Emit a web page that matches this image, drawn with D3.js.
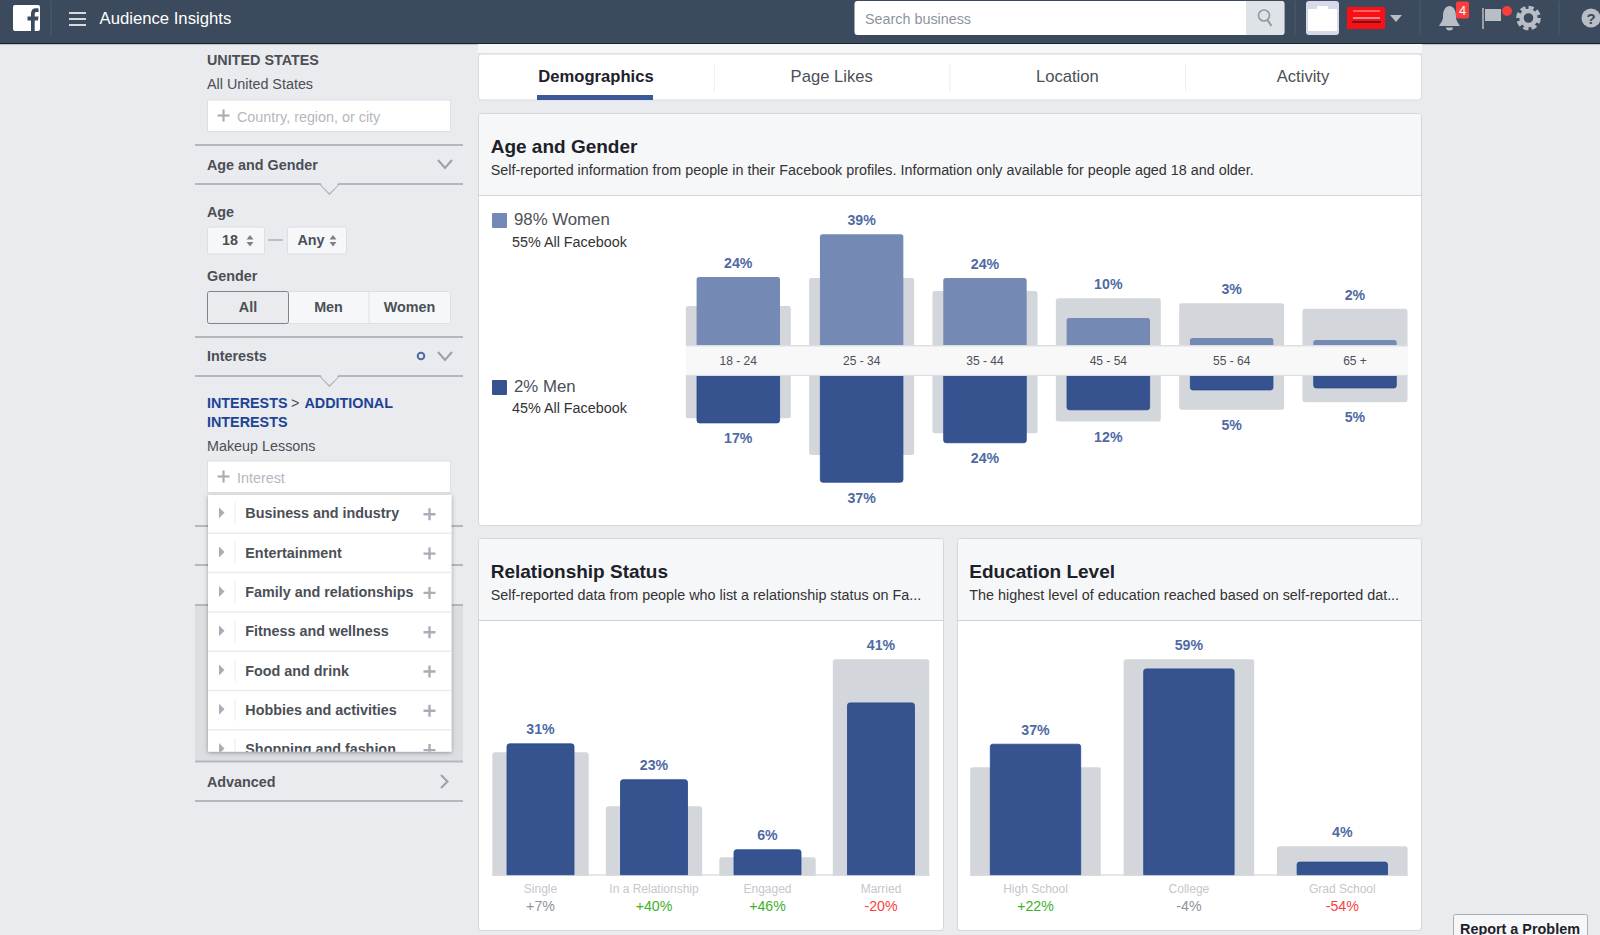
<!DOCTYPE html>
<html><head><meta charset="utf-8">
<script src="https://cdn.jsdelivr.net/npm/d3@7/dist/d3.min.js"></script>
<style>html,body{margin:0;padding:0;background:#e9ebee;overflow:hidden}svg{display:block}text{font-family:"Liberation Sans",Arial,sans-serif}</style>
</head><body><svg id="c" width="1600" height="935"></svg>
<script>
// ---------- data ----------
const ageCats = ['18 - 24','25 - 34','35 - 44','45 - 54','55 - 64','65 +'];
const womenVals = [23.9,39,23.6,9.5,2.5,1.8];
const womenFb = [13.7,23.6,19,16.5,14.7,12.8];
const womenLabels = ['24%','39%','24%','10%','3%','2%'];
const menVals = [17,37.9,24,12.4,5.4,4.7];
const menFb = [15.2,28.2,20.5,16.4,12.2,9.6];
const menLabels = ['17%','37%','24%','12%','5%','5%'];
const relCats = ['Single','In a Relationship','Engaged','Married'];
const relVals = [31.2,22.7,6.1,40.9];
const relFb = [29.1,16.3,4.2,51.1];
const relLabels = ['31%','23%','6%','41%'];
const relDelta = ['+7%','+40%','+46%','-20%'];
const eduCats = ['High School','College','Grad School'];
const eduVals = [37.3,58.7,3.8];
const eduFb = [30.6,61.3,8.2];
const eduLabels = ['37%','59%','4%'];
const eduDelta = ['+22%','-4%','-54%'];
const tabs = ['Demographics','Page Likes','Location','Activity'];
const interestRows = ['Business and industry','Entertainment','Family and relationships','Fitness and wellness','Food and drink','Hobbies and activities','Shopping and fashion'];

// ---------- style ----------
const C = {head:'#3b4a5c',bg:'#e9ebee',panel:'#f6f7f9',line:'#cfd2d8',side:'#b4b7bc',text:'#4b4f56',women:'#7589b5',men:'#365390',menEdge:'#24478f',fb:'#d3d6db',lab:'#4f6aa3',icon:'#b9bdc6',blue:'#1c4396',
  green:'#3fb02a',red:'#fa3e3e',grey:'#8d949e'};
const svg = d3.select('#c');
const bodySize = 14.35;
function T(p,x,y,s,o={}){return p.append('text').attr('x',x).attr('y',y).text(s)
  .attr('font-size',o.size||bodySize).attr('font-weight',o.weight||'normal').attr('fill',o.fill||C.text).attr('text-anchor',o.anchor||'start');}
function R(p,x,y,w,h,fill,o={}){return p.append('rect').attr('x',x).attr('y',y).attr('width',w).attr('height',h).attr('fill',fill)
  .attr('stroke',o.stroke||'none').attr('stroke-width',o.sw||1).attr('rx',o.rx||0);}
function L(p,x1,y1,x2,y2,c,w=1){return p.append('line').attr('x1',x1).attr('y1',y1).attr('x2',x2).attr('y2',y2).attr('stroke',c).attr('stroke-width',w);}
function P(p,d,fill,o={}){return p.append('path').attr('d',d).attr('fill',fill).attr('stroke',o.stroke||'none').attr('stroke-width',o.sw||1).attr('stroke-linecap',o.cap||'butt');}
function bar(x,w,y0,y1,r=2.5){ // rounded at the far end from the baseline y0
  const s=y1<y0?1:-1; const rr=Math.min(r,Math.abs(y0-y1));
  return `M${x},${y0}V${y1+s*rr}Q${x},${y1} ${x+rr},${y1}H${x+w-rr}Q${x+w},${y1} ${x+w},${y1+s*rr}V${y0}Z`;}

// ---------- header ----------
R(svg,0,0,1600,43,C.head); R(svg,0,43,1600,1.2,'#1d2129');
R(svg,13,5,27,26,'#fff',{rx:2});
P(svg,'M31,31V20.5H27.5V16.5H31V13.5C31,10 33,8.3 36,8.3C37.3,8.3 38.3,8.4 38.6,8.5V12H36.6C35,12 34.7,12.8 34.7,13.9V16.5H38.5L38,20.5H34.7V31Z',C.head);
L(svg,51,1,51,35,'#4f5e70');
[13,19,25].forEach(y=>L(svg,69,y,86,y,'#fff',1.6));
T(svg,99.5,24,'Audience Insights',{size:16.7,fill:'#fff'});
R(svg,854.5,1,430,34,'#fff',{rx:3});
P(svg,'M1246,1H1281a3,3 0 0 1 3,3V32a3,3 0 0 1 -3,3H1246Z','#dfe2e7');
T(svg,865,24,'Search business',{fill:'#8d949e'});
svg.append('circle').attr('cx',1264).attr('cy',15.5).attr('r',5.5).attr('fill','none').attr('stroke','#9299a3').attr('stroke-width',1.6);
L(svg,1267.5,20,1271.5,26,'#9299a3',2);
L(svg,1295,1,1295,35,'#4f5e70');
R(svg,1306,1,33,34,'#d7daea',{rx:3}); R(svg,1308,9,29,22,'#fff'); R(svg,1317,6,11,3,'#fff');
R(svg,1347,7,38,22,'#fa0f14'); L(svg,1353,11,1380,11,'#ffb0b0',1); L(svg,1353,18,1380,18,'#fff',1); L(svg,1352,22,1381,22,'#3a1a1e',1.5);
P(svg,'M1390,15H1402L1396,22Z','#b9bdc6');
L(svg,1420,1,1420,35,'#4f5e70');
P(svg,'M1449.5,6C1443.5,7 1443,13 1443,17C1443,21 1440,24 1439,26H1460C1459,24 1456,21 1456,17C1456,13 1455.5,7 1449.5,6ZM1446,27.5A3.5,3 0 0 0 1453,27.5Z',C.icon);
R(svg,1456,1.5,13,17,'#fa3e3e',{rx:2}); T(svg,1462.5,15,'4',{size:13,fill:'#fff',anchor:'middle'});
L(svg,1483,8,1483,29,C.icon,1.5); P(svg,'M1485,9H1501V21H1485Z',C.icon);
svg.append('circle').attr('cx',1507).attr('cy',11).attr('r',5).attr('fill','#fa3e3e');
svg.append('circle').attr('cx',1528.5).attr('cy',18).attr('r',10.5).attr('fill','none').attr('stroke',C.icon).attr('stroke-width',3.6).attr('stroke-dasharray','5.2 3');
svg.append('circle').attr('cx',1528.5).attr('cy',18).attr('r',7).attr('fill','none').attr('stroke',C.icon).attr('stroke-width',4.4);
L(svg,1559,1,1559,35,'#4f5e70');
svg.append('circle').attr('cx',1591).attr('cy',18).attr('r',9.5).attr('fill',C.icon);
T(svg,1591,23.5,'?',{size:15,weight:'bold',fill:C.head,anchor:'middle'});

// ---------- sidebar ----------
const s = svg.append('g');
const sideX = 207, sl = 195, sr = 463;
function sLine(y){L(s,sl,y,sr,y,C.side,2);}
function notch(y,depth=10){P(s,`M${sl},${y}H320L329.5,${y+depth}L339,${y}H${sr}`,'none',{stroke:C.side,sw:1.8}); P(s,`M321,${y+1}L329.5,${y+depth-1}L338,${y+1}Z`,C.bg);}
function chevron(cx,cy){P(s,`M${cx-7},${cy-4}L${cx},${cy+4}L${cx+7},${cy-4}`,'none',{stroke:'#9ba0aa',sw:2});}
function field(y,h,txt){R(s,207.5,y,243,h,'#fff',{stroke:'#dddfe2'});
  L(s,223.5,y+9.5,223.5,y+21.5,'#a8adb6',2.2); L(s,217.5,y+15.5,229.5,y+15.5,'#a8adb6',2.2); T(s,237,y+22.3,txt,{fill:'#b4b8bf'});}
function select(x,w,txt,tx,ax){R(s,x,227,w,27,'#f6f7f9',{stroke:'#dddfe2',rx:2}); T(s,tx,245,txt,{weight:'bold'});
  P(s,`M${ax-3.5},239.5L${ax},235L${ax+3.5},239.5ZM${ax-3.5},242L${ax},246.5L${ax+3.5},242Z`,'#7c818a');}

T(s,sideX,65,'UNITED STATES',{weight:'bold'});
T(s,sideX,89,'All United States');
field(100,31.5,'Country, region, or city');
sLine(145);
T(s,sideX,169.5,'Age and Gender',{weight:'bold'}); chevron(445,164);
notch(184);
T(s,sideX,216.5,'Age',{weight:'bold'});
select(207.5,57,'18',222,250); L(s,268,240,283,240,'#9ba0aa',1.2); select(287.5,59,'Any',297.5,333);
T(s,sideX,281,'Gender',{weight:'bold'});
R(s,207.5,291.5,243,32,'#f6f7f9',{stroke:'#dddfe2',rx:2});
R(s,207.5,291.5,81,32,C.bg,{stroke:'#7f848c',rx:2});
L(s,369,292,369,323,'#dddfe2');
[['All',248],['Men',328.5],['Women',409.5]].forEach(d=>T(s,d[1],312,d[0],{weight:'bold',anchor:'middle'}));
sLine(337);
T(s,sideX,361,'Interests',{weight:'bold'});
s.append('circle').attr('cx',421).attr('cy',356).attr('r',3.3).attr('fill','none').attr('stroke',C.lab).attr('stroke-width',2);
chevron(445,356);
notch(376);
T(s,sideX,407.5,'INTERESTS',{weight:'bold',fill:C.blue});
T(s,291,407.5,'>',{});
T(s,304.5,407.5,'ADDITIONAL',{weight:'bold',fill:C.blue});
T(s,sideX,426.5,'INTERESTS',{weight:'bold',fill:C.blue});
T(s,sideX,451,'Makeup Lessons');
field(461,31.5,'Interest');
sLine(526); sLine(565);
R(s,sl,605,sr-sl,156,'#dcdee2'); sLine(605); sLine(761.5);
T(s,sideX,786.5,'Advanced',{weight:'bold'});
P(s,'M441,775L447.5,781.5L441,788','none',{stroke:'#9ba0aa',sw:2});
sLine(801);

// dropdown
const defs = svg.append('defs');
const sh = defs.append('filter').attr('id','sh').attr('x','-10%').attr('y','-10%').attr('width','120%').attr('height','120%');
sh.append('feDropShadow').attr('dx',0).attr('dy',1).attr('stdDeviation',2).attr('flood-color','#000').attr('flood-opacity',0.35);
defs.append('clipPath').attr('id','dd').append('rect').attr('x',208).attr('y',495).attr('width',243.5).attr('height',256.7);
R(s,208,495,243.5,256.7,'#fff').attr('filter','url(#sh)');
const rowY = d3.scaleLinear().domain([0,1]).range([518.3,557.6]);
const dd = s.append('g').attr('clip-path','url(#dd)');
const rows = dd.selectAll('g').data(interestRows).join('g').attr('transform',(d,i)=>`translate(0,${rowY(i)})`);
rows.append('text').attr('x',245.3).attr('y',0).text(d=>d).attr('font-size',bodySize).attr('font-weight','bold').attr('fill',C.text);
rows.append('path').attr('d','M219,-11L224.5,-5.5L219,0Z').attr('fill','#a8adb6');
rows.append('line').attr('x1',235).attr('x2',235).attr('y1',-16).attr('y2',6).attr('stroke','#e9ebee');
rows.append('line').attr('x1',208).attr('x2',451.5).attr('y1',15).attr('y2',15).attr('stroke','#e9ebee').attr('stroke-width',1.5);
rows.append('path').attr('d','M429.5,-10V2M423.5,-4H435.5').attr('stroke','#a8adb6').attr('stroke-width',2.4).attr('fill','none');

// ---------- cards ----------
function card(x,w,y,h,hh){
  R(svg,x+.5,y+.5,w,h,'#fff',{stroke:'#d3d6db',rx:3});
  P(svg,`M${x+1},${y+hh}V${y+4}a3,3 0 0 1 3,-3H${x+w-3}a3,3 0 0 1 3,3V${y+hh}Z`,C.panel);
  L(svg,x,y+hh+.5,x+w+1,y+hh+.5,'#cfd2d8',1.2);
}
// tabs
R(svg,478.5,54,943,46,'#fff',{stroke:'#d8dade',rx:3});
R(svg,478,44,944,10,C.panel); L(svg,478,53.5,1422,53.5,'#dddfe2');
const tabX = d3.scalePoint().domain(tabs).range([596,1303]);
tabs.forEach((t,i)=>T(svg,tabX(t),82,t,{size:16.6,weight:i?'normal':'bold',anchor:'middle',fill:i?C.text:'#1d2129'}));
d3.pairs(tabs).forEach(p=>{const x=(tabX(p[0])+tabX(p[1]))/2+.5; L(svg,x,64,x,91,'#e9ebee');});
R(svg,537,95,116,5,'#3b5998');

function head(x,y,title,sub){T(svg,x,y,title,{size:19,weight:'bold',fill:'#1d2129'});T(svg,x,y+21.5,sub,{fill:'#333'});}
card(478,943,113,412,82);
head(490.7,153,'Age and Gender','Self-reported information from people in their Facebook profiles. Information only available for people aged 18 and older.');
card(478,465,538,392,82);
head(490.7,578,'Relationship Status','Self-reported data from people who list a relationship status on Fa...');
card(957,464,538,392,82);
head(969.3,578,'Education Level','The highest level of education reached based on self-reported dat...');

// legend
R(svg,492,213,15,15,C.women,{rx:1});
T(svg,514,225,'98% Women',{size:16.8});
T(svg,512,247,'55% All Facebook',{fill:'#333'});
R(svg,492,380,15,15,C.men,{rx:1});
T(svg,514,391.7,'2% Men',{size:16.8});
T(svg,512,413,'45% All Facebook',{fill:'#333'});

// age & gender chart
const ag = svg.append('g');
const ageX = d3.scalePoint().domain(ageCats).range([738.3,1355]);
const topBase = 345, botBase = 375, pxPerPct = 2.84;
const yUp = d3.scaleLinear().domain([0,40]).range([topBase,topBase-40*pxPerPct]);
const yDn = d3.scaleLinear().domain([0,40]).range([botBase,botBase+40*pxPerPct]);
const gw = 105, fw = 83.4;
ag.selectAll('.wf').data(ageCats).join('path').attr('d',(c,i)=>bar(ageX(c)-gw/2,gw,topBase,yUp(womenFb[i]))).attr('fill',C.fb);
ag.selectAll('.mf').data(ageCats).join('path').attr('d',(c,i)=>bar(ageX(c)-gw/2,gw,botBase,yDn(menFb[i]))).attr('fill',C.fb);
ag.selectAll('.w').data(ageCats).join('path').attr('d',(c,i)=>bar(ageX(c)-fw/2,fw,topBase,yUp(womenVals[i]))).attr('fill',C.women);
ag.selectAll('.m').data(ageCats).join('path').attr('d',(c,i)=>bar(ageX(c)-(fw-.8)/2,fw-.8,botBase,yDn(menVals[i])-.4)).attr('fill',C.men).attr('stroke',C.menEdge).attr('stroke-width',.8);
R(ag,686,346.5,722,28.5,'#f8f8f9');
L(ag,686,345.8,1408,345.8,'#dcdee2',1.6); L(ag,686,375.4,1408,375.4,'#dcdee2',1.2);
ag.selectAll('.c').data(ageCats).join('text').attr('x',c=>ageX(c)).attr('y',365).text(c=>c).attr('text-anchor','middle').attr('font-size',12).attr('fill',C.text);
ag.selectAll('.lw').data(ageCats).join('text').attr('x',c=>ageX(c)).attr('y',(c,i)=>Math.min(yUp(womenVals[i]),yUp(womenFb[i]))-9).text((c,i)=>womenLabels[i]).attr('text-anchor','middle').attr('font-size',14.2).attr('font-weight','bold').attr('fill',C.lab);
ag.selectAll('.lm').data(ageCats).join('text').attr('x',c=>ageX(c)).attr('y',(c,i)=>Math.max(yDn(menVals[i]),yDn(menFb[i]))+20).text((c,i)=>menLabels[i]).attr('text-anchor','middle').attr('font-size',14.2).attr('font-weight','bold').attr('fill',C.lab);

// column charts
const base = 875;
function columns(cats,vals,fb,labels,delta,x0,x1,axisL,axisR,gw,fw,pxPct){
  const g = svg.append('g');
  const x = d3.scalePoint().domain(cats).range([x0,x1]);
  const y = d3.scaleLinear().domain([0,70]).range([base,base-70*pxPct]);
  L(g,axisL,base,axisR,base,'#dddfe2',1.5);
  g.selectAll('.f').data(cats).join('path').attr('d',(c,i)=>bar(x(c)-gw/2,gw,base+.8,y(fb[i]))).attr('fill',C.fb);
  g.selectAll('.b').data(cats).join('path').attr('d',(c,i)=>bar(x(c)-fw/2,fw,base-.3,y(vals[i])+.5)).attr('fill',C.men).attr('stroke',C.menEdge).attr('stroke-width',.8);
  g.selectAll('.l').data(cats).join('text').attr('x',c=>x(c)).attr('y',(c,i)=>Math.min(y(vals[i]),y(fb[i]))-9).text((c,i)=>labels[i]).attr('text-anchor','middle').attr('font-size',14.2).attr('font-weight','bold').attr('fill',C.lab);
  g.selectAll('.c').data(cats).join('text').attr('x',c=>x(c)).attr('y',892.7).text(c=>c).attr('text-anchor','middle').attr('font-size',12).attr('fill','#c4c7cd');
  g.selectAll('.d').data(cats).join('text').attr('x',c=>x(c)).attr('y',911).text((c,i)=>delta[i]).attr('text-anchor','middle').attr('font-size',14.2)
    .attr('fill',(c,i)=>{const v=parseInt(delta[i]);return v>=10?C.green:v<=-10?C.red:C.grey;});
}
columns(relCats,relVals,relFb,relLabels,relDelta,540.5,881,492,930,96.4,67,4.22);
columns(eduCats,eduVals,eduFb,eduLabels,eduDelta,1035.5,1342.3,970,1408,130.6,90.4,3.52);

// report a problem
R(svg,1453.5,914.5,134,30,'#f6f7f9',{stroke:'#a9adb4',rx:2});
T(svg,1460,934,'Report a Problem',{size:14.4,weight:'bold',fill:'#1d2129'});
</script></body></html>
